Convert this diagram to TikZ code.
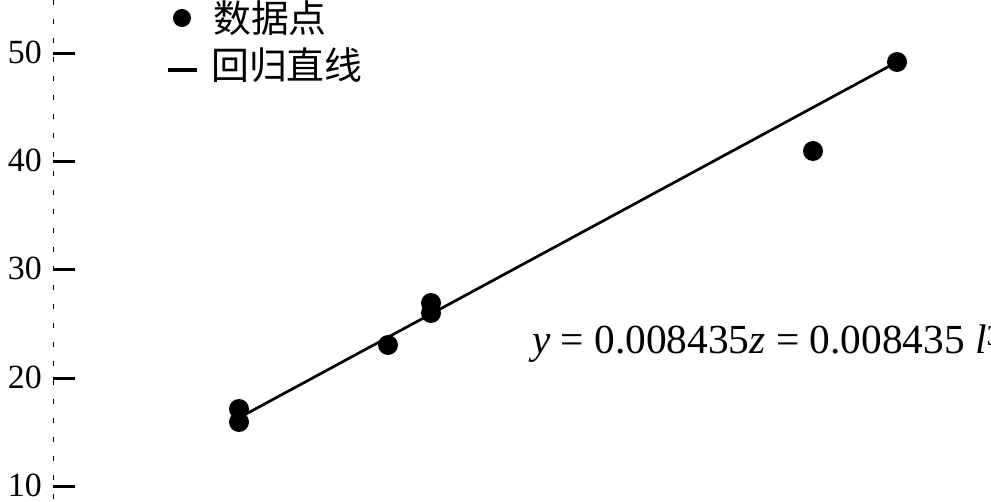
\documentclass[tikz,border=0pt]{standalone}
\usepackage{fontspec}
\setmainfont{Liberation Serif}
\newfontfamily\cjk{Noto Sans CJK SC}
\usetikzlibrary{positioning}

\begin{document}
\begin{tikzpicture}[x=1bp,y=-1bp
            ,datapt/.style={circle,fill=black,inner sep=0pt,minimum size=20bp}
            ,ticklbl/.style={anchor=base east,inner sep=0pt,font=\fontsize{34}{34}\selectfont}
            ,lgtext/.style={anchor=west,inner sep=0pt,font=\fontsize{38}{38}\selectfont\cjk}
            ]
  \useasboundingbox (0,0) rectangle (991,502);
  % axis with ticks
  \draw[line width=1bp,dash pattern=on 5bp off 14bp] (53,0) -- (53,500);
  \foreach \v in {10,20,...,50}
    {
     \coordinate (t\v) at (53,{486-(\v-10)*10.8});
     \draw[line width=3bp] (t\v) -- ++(22,0);
     \node[ticklbl] (l\v) at ([xshift=-11bp,yshift=-10bp]t\v) {\v};
    }
  % data points
  \foreach \n/\px/\py in {1/239/409,2/239/422,3/388/345,4/431/303,5/431/313,6/813/151,7/897/62}
    \node[datapt] (p\n) at (\px,\py) {};
  % regression line
  \coordinate (r0) at (246,414);
  \draw[line width=2.7bp] (r0) -- (p7.center);
  \node[anchor=base west,inner sep=0pt,font=\fontsize{41.5}{41.5}\selectfont] (eq) at (532,354)
    {\textit{y} = 0.008435\textit{z} = 0.008435 \textit{l}\textsuperscript{3}};
  % legend
  \node[datapt,minimum size=18bp] (lgdot) at (182,18) {};
  \node[lgtext] (lgpt) at (213,18) {数据点};
  \coordinate (lg0) at (168,70);
  \coordinate (lg1) at (197,70);
  \draw[line width=4bp] (lg0) -- (lg1);
  \node[lgtext] (lgln) at (211,65) {回归直线};
\end{tikzpicture}
\end{document}
